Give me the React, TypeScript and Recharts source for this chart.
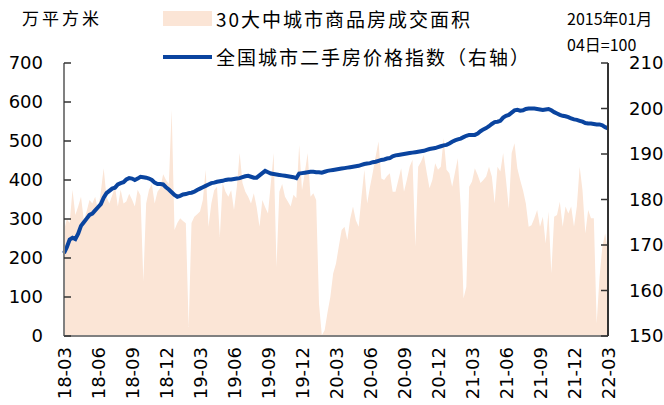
import React from "react";
import { ComposedChart, Area, Line, XAxis, YAxis } from "recharts";

const tickLabels = ["18-03","18-06","18-09","18-12","19-03","19-06","19-09","19-12","20-03","20-06","20-09","20-12","21-03","21-06","21-09","21-12","22-03"];

// 30大中城市商品房成交面积（万平方米），周度
const areaValues = [
  270,300,290,375,310,332,357,297,320,349,340,357,
  323,370,430,357,340,360,383,332,375,340,345,365,
  350,332,375,360,140,340,375,390,340,370,380,415,
  400,390,580,272,290,302,295,289,23,290,306,312,
  319,349,426,280,340,374,383,254,392,370,357,374,
  323,383,469,392,370,357,340,366,330,280,349,330,
  314,392,469,177,370,390,357,345,332,362,353,490,
  374,420,469,357,366,349,83,2,15,60,100,160,
  186,230,272,280,246,300,332,297,280,357,426,340,
  383,420,460,499,404,400,410,417,370,370,400,430,
  370,400,434,452,229,434,447,464,420,379,400,443,
  426,434,507,426,417,383,420,456,332,96,126,383,
  396,430,413,392,400,409,434,409,340,434,422,469,
  400,327,469,494,430,400,374,340,280,284,302,323,
  280,306,237,319,160,306,310,344,280,332,314,332,
  280,332,434,374,263,323,302,302,32,150,229,263,
  216,
];

// 全国城市二手房价格指数（2015年01月04日=100）
const indexValues = [
  168.2,169.5,171.2,171.6,171.3,172.5,174.2,175.0,175.8,176.6,176.9,177.6,
  178.3,179.0,180.4,181.4,181.9,182.4,182.6,183.3,183.6,183.8,184.4,184.7,
  184.6,184.3,184.6,185.0,184.9,184.8,184.6,184.3,183.7,183.4,183.4,183.3,
  182.7,182.2,181.6,181.0,180.6,180.8,181.1,181.2,181.4,181.5,181.7,182.1,
  182.4,182.7,183.0,183.3,183.6,183.7,183.9,184.0,184.1,184.3,184.4,184.4,
  184.5,184.6,184.7,184.9,185.1,185.2,185.0,184.8,184.8,185.3,185.8,186.3,
  186.0,185.7,185.6,185.5,185.4,185.3,185.2,185.1,185.0,184.9,184.7,185.7,
  185.8,185.9,186.0,186.1,186.1,186.0,186.0,185.9,186.1,186.3,186.4,186.5,
  186.6,186.7,186.8,186.9,187.0,187.1,187.2,187.3,187.4,187.6,187.8,187.9,
  188.0,188.2,188.3,188.5,188.7,188.8,189.0,189.1,189.5,189.7,189.8,189.9,
  190.0,190.1,190.2,190.3,190.4,190.5,190.6,190.7,190.9,191.1,191.2,191.3,
  191.5,191.7,191.9,192.0,192.3,192.7,193.0,193.2,193.4,193.7,194.0,194.2,
  194.2,194.2,194.5,195.0,195.4,195.7,196.1,196.6,197.0,197.1,197.3,198.0,
  198.4,198.6,199.1,199.6,199.7,199.5,199.6,199.9,200.0,200.0,200.0,199.9,
  199.8,199.7,199.8,199.9,199.6,199.2,198.9,198.6,198.4,198.3,198.1,197.8,
  197.6,197.5,197.3,197.1,196.8,196.7,196.7,196.6,196.5,196.5,196.3,195.9,
  195.6,
];

const leftTicks = [0, 100, 200, 300, 400, 500, 600, 700];
const rightTicks = [150, 160, 170, 180, 190, 200, 210];
const xTicks = tickLabels.map((_, k) => k * 12);

const data = areaValues.map((v, i) => ({ i, area: v, idx: indexValues[i] }));

const AREA_COLOR = "#fbe5d6";
const LINE_COLOR = "#0a449f";
const NUM_FONT = "'DejaVu Sans', sans-serif";
const CJK_FONT = "'Noto Sans CJK SC', sans-serif";

const XTick = (props: any) => {
  const { x, payload } = props;
  const label = tickLabels[Math.round(payload.value / 12)];
  const y = 347;
  return (
    <text
      x={x}
      y={y}
      transform={`rotate(-90, ${x}, ${y})`}
      textAnchor="end"
      dominantBaseline="central"
      fontFamily={NUM_FONT}
      fontSize={18}
      fill="#000"
    >
      {label}
    </text>
  );
};

const abs = (s: React.CSSProperties): React.CSSProperties => ({ position: "absolute", whiteSpace: "nowrap", ...s });

export default function App() {
  return (
    <div style={{ position: "absolute", left: 0, top: 0, width: 664, height: 405, background: "#fff" }}>
      <ComposedChart
        width={664}
        height={405}
        data={data}
        margin={{ top: 63, right: 6, left: 4, bottom: 9 }}
      >
        <XAxis
          dataKey="i"
          type="number"
          domain={[0, 192]}
          ticks={xTicks}
          interval={0}
          height={60}
          tickLine={false}
          axisLine={{ stroke: "#808080", strokeWidth: 2 }}
          tick={<XTick />}
        />
        <YAxis
          yAxisId="left"
          orientation="left"
          width={60}
          domain={[0, 700]}
          ticks={leftTicks}
          interval={0}
          tickSize={-7}
          tickMargin={28}
          axisLine={{ stroke: "#808080", strokeWidth: 2 }}
          tickLine={{ stroke: "#333", strokeWidth: 1.5 }}
          tick={{ fontFamily: NUM_FONT, fontSize: 18, fill: "#000" }}
        />
        <YAxis
          yAxisId="right"
          orientation="right"
          width={50}
          domain={[150, 210]}
          ticks={rightTicks}
          interval={0}
          tickSize={-7}
          tickMargin={28}
          axisLine={{ stroke: "#333", strokeWidth: 2 }}
          tickLine={{ stroke: "#333", strokeWidth: 1.5 }}
          tick={{ fontFamily: NUM_FONT, fontSize: 18, fill: "#000" }}
        />
        <Area
          yAxisId="left"
          type="linear"
          dataKey="area"
          name="30大中城市商品房成交面积"
          stroke="none"
          fill={AREA_COLOR}
          fillOpacity={1}
          isAnimationActive={false}
        />
        <Line
          yAxisId="right"
          type="linear"
          dataKey="idx"
          name="全国城市二手房价格指数（右轴）"
          stroke={LINE_COLOR}
          strokeWidth={4}
          dot={false}
          isAnimationActive={false}
        />
      </ComposedChart>

      <div style={abs({ left: 22, top: 5, fontFamily: CJK_FONT, fontSize: 17, letterSpacing: 3, lineHeight: "26px", color: "#000" })}>万平方米</div>

      <div style={abs({ left: 163, top: 11, width: 49, height: 15, background: AREA_COLOR })} />
      <div style={abs({ left: 216, top: 5, fontFamily: CJK_FONT, fontSize: 19, letterSpacing: 2, lineHeight: "28px", color: "#000" })}>30大中城市商品房成交面积</div>

      <div style={abs({ left: 163, top: 55, width: 49, height: 4, background: LINE_COLOR })} />
      <div style={abs({ left: 216, top: 43, fontFamily: CJK_FONT, fontSize: 19, letterSpacing: 2, lineHeight: "28px", color: "#000" })}>全国城市二手房价格指数（右轴）</div>

      <div style={abs({ left: 567, top: 6, fontFamily: CJK_FONT, fontSize: 16, lineHeight: "24px", color: "#000" })}>2015年01月</div>
      <div style={abs({ left: 567, top: 32, fontFamily: CJK_FONT, fontSize: 16, lineHeight: "24px", color: "#000" })}>04日=100</div>
    </div>
  );
}
